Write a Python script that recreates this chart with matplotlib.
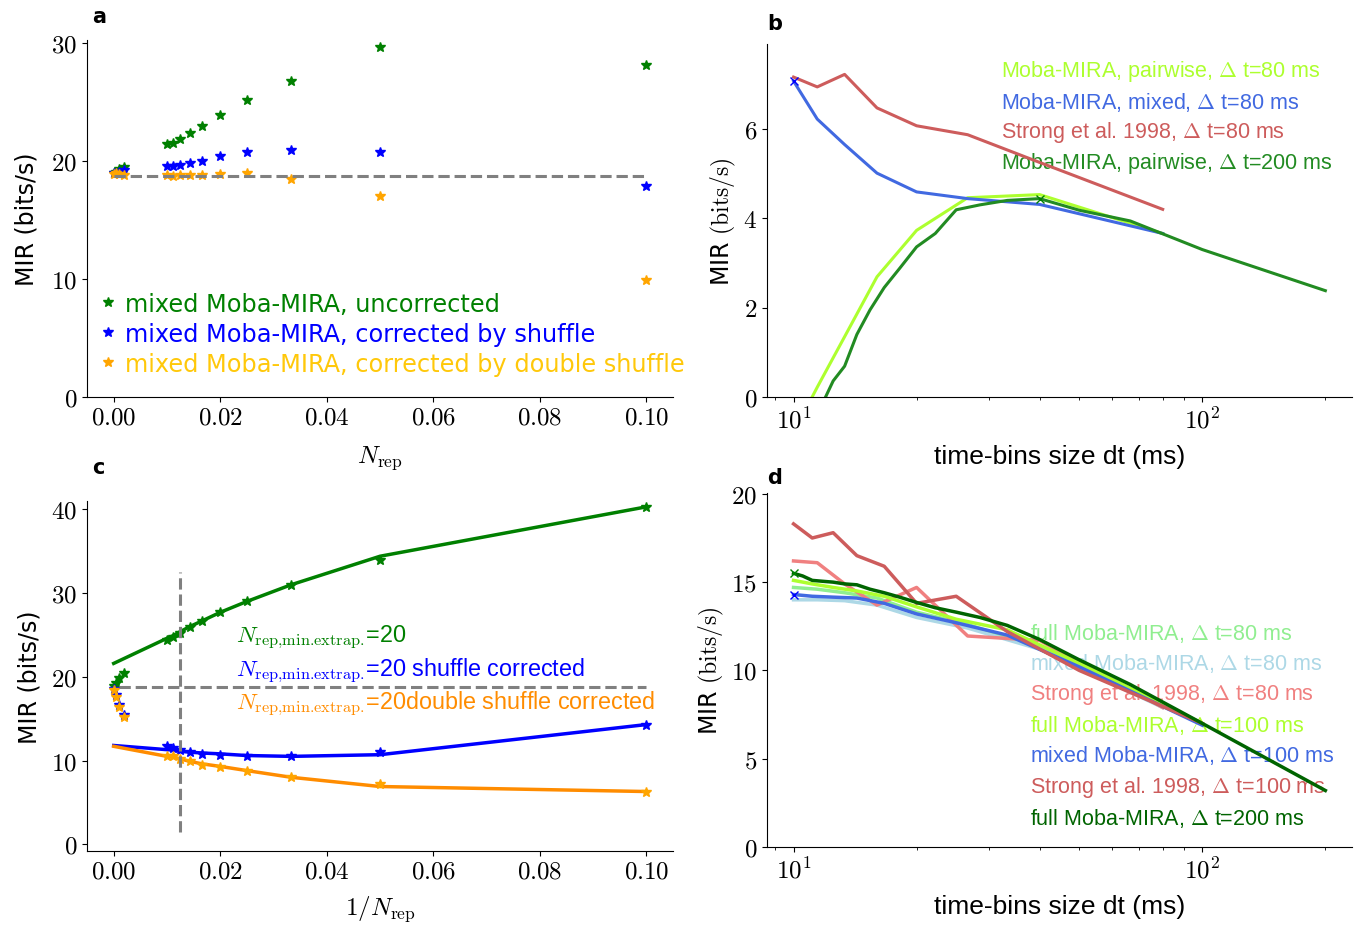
import numpy as np
import matplotlib
matplotlib.use('Agg')
import matplotlib.pyplot as plt
from matplotlib.ticker import NullFormatter, FuncFormatter

plt.rcParams['font.family'] = 'serif'
plt.rcParams['font.serif'] = ['cmr10']
plt.rcParams['mathtext.fontset'] = 'cm'
plt.rcParams['axes.formatter.use_mathtext'] = True
plt.rcParams['axes.unicode_minus'] = False

SANS = 'DejaVu Sans'
HELV = 'Liberation Sans'

# 1/N_rep for each number of repetitions
n_rep = np.array([10000, 2000, 1000, 500, 100, 90, 80, 70, 60, 50, 40, 30, 20, 10])
inv_nrep = 1.0 / n_rep

# panel a: mixed Moba-MIRA estimates
a_uncorr = [19.0, 19.1, 19.3, 19.5, 21.4, 21.5, 21.9, 22.4, 23.0, 23.9, 25.2, 26.8, 29.7, 28.1]
a_shuffle = [19.0, 19.0, 19.1, 19.2, 19.6, 19.6, 19.7, 19.8, 20.0, 20.4, 20.8, 20.9, 20.8, 17.9]
a_double = [18.9, 19.0, 18.9, 18.8, 18.8, 18.7, 18.8, 18.8, 18.8, 18.9, 19.0, 18.5, 17.0, 9.9]
mir_ref = 18.75

# panel c: full Moba-MIRA estimates and extrapolation fits
c_uncorr = [18.9, 19.3, 19.8, 20.5, 24.4, 24.7, 25.2, 25.9, 26.7, 27.7, 29.0, 31.0, 34.0, 40.3]
c_shuffle = [18.6, 17.8, 16.6, 15.4, 11.7, 11.5, 11.3, 11.0, 10.8, 10.7, 10.5, 10.5, 11.0, 14.2]
c_double = [18.4, 17.6, 16.4, 15.2, 10.6, 10.5, 10.2, 9.9, 9.5, 9.2, 8.7, 8.0, 7.2, 6.2]
fit_x = np.concatenate([[0.0], inv_nrep[4:]])
fit_uncorr = [21.6, 24.6, 24.9, 25.4, 26.0, 26.7, 27.7, 29.0, 31.0, 34.4, 40.3]
fit_shuffle = [11.8, 11.3, 11.25, 11.1, 11.0, 10.9, 10.8, 10.6, 10.5, 10.7, 14.3]
fit_double = [11.7, 10.5, 10.4, 10.2, 9.9, 9.6, 9.3, 8.8, 8.0, 6.9, 6.3]
n_min_extrap = 80

# time-bin sizes: word length divided into n bins
dt80 = 80.0 / np.arange(8, 0, -1)
dt100 = 100.0 / np.arange(10, 0, -1)
dt200 = 200.0 / np.arange(20, 0, -1)

# panel b
b_pair80 = [-0.8, 0.22, 1.35, 2.69, 3.73, 4.46, 4.53, 3.66]
b_mixed80 = [7.07, 6.22, 5.65, 5.01, 4.59, 4.44, 4.31, 3.66]
b_strong80 = [7.16, 6.94, 7.22, 6.47, 6.07, 5.87, 5.25, 4.20]
b_pair200 = [-2.0, -1.4, -0.8, -0.15, 0.36, 0.69, 1.40, 1.95, 2.45, 2.88,
             3.36, 3.66, 4.19, 4.30, 4.40, 4.44, 4.18, 3.94, 3.30, 2.38]

# panel d
d_full80 = [14.7, 14.6, 14.4, 14.1, 13.3, 12.6, 11.3, 8.0]
d_mixed80 = [14.0, 14.0, 13.95, 13.7, 13.0, 12.4, 11.2, 7.9]
d_strong80 = [16.2, 16.1, 14.9, 13.7, 14.7, 11.95, 11.7, 7.9]
d_full100 = [15.1, 14.9, 14.7, 14.5, 14.2, 13.6, 12.9, 12.3, 10.4, 7.0]
d_mixed100 = [14.3, 14.2, 14.15, 14.1, 13.8, 13.2, 12.7, 12.0, 10.2, 6.9]
d_strong100 = [18.3, 17.5, 17.8, 16.5, 15.9, 13.8, 14.2, 12.2, 10.0, 7.0]
d_full200 = [15.5, 15.35, 15.1, 15.05, 15.0, 14.9, 14.85, 14.6, 14.4, 14.15,
             13.85, 13.55, 13.3, 13.0, 12.55, 11.75, 10.6, 9.2, 7.0, 3.2]

fig = plt.figure(figsize=(13.56, 9.28), dpi=100)
ax_a = fig.add_axes([0.0642, 0.5711, 0.4322, 0.3847])
ax_b = fig.add_axes([0.5656, 0.5711, 0.4314, 0.3804])
ax_c = fig.add_axes([0.0642, 0.0819, 0.4322, 0.3772])
ax_d = fig.add_axes([0.5656, 0.0862, 0.4314, 0.3815])

for ax in (ax_a, ax_b, ax_c, ax_d):
    ax.spines['top'].set_visible(False)
    ax.spines['right'].set_visible(False)
    ax.tick_params(labelsize=18)

lin_fmt = FuncFormatter(lambda v, p: f'${v:.2f}$')
int_fmt = FuncFormatter(lambda v, p: f'${v:.0f}$')
log_fmt = FuncFormatter(lambda v, p: f'$10^{{{int(round(np.log10(v)))}}}$')

# ---- a ----
ax_a.plot(inv_nrep, a_uncorr, '*', color='green', ms=7, label='mixed Moba-MIRA, uncorrected')
ax_a.plot(inv_nrep, a_shuffle, '*', color='blue', ms=7, label='mixed Moba-MIRA, corrected by shuffle')
ax_a.plot(inv_nrep, a_double, '*', color='orange', ms=7, label='mixed Moba-MIRA, corrected by double shuffle')
ax_a.plot([0, 0.1], [mir_ref, mir_ref], '--', color='gray', lw=2.2)
ax_a.set_ylim(0, 30.25)
ax_a.set_yticks([0, 10, 20, 30])
ax_a.xaxis.set_major_formatter(lin_fmt)
ax_a.yaxis.set_major_formatter(int_fmt)
ax_a.set_xlabel(r'$N_{\mathrm{rep}}$', fontsize=18, labelpad=10)
ax_a.set_ylabel('MIR (bits/s)', fontsize=17, family=SANS, labelpad=9)
ax_a.legend(loc='lower left', bbox_to_anchor=(0.0, 0.019), frameon=False,
            prop={'family': SANS, 'size': 17.3}, handlelength=0.55,
            handletextpad=0.45, labelspacing=0.25, borderaxespad=0.2,
            labelcolor=['green', 'blue', '#ffc80a'])

# ---- b ----
ax_b.plot(dt80, b_pair80, color='greenyellow', lw=2.2, label=r'Moba-MIRA, pairwise, $\Delta$ t=80 ms')
ax_b.plot(dt80, b_mixed80, color='royalblue', lw=2.2, label=r'Moba-MIRA, mixed, $\Delta$ t=80 ms')
ax_b.plot(dt80, b_strong80, color='indianred', lw=2.2, label=r'Strong et al. 1998, $\Delta$ t=80 ms')
ax_b.plot(dt200, b_pair200, color='forestgreen', lw=2.2, label=r'Moba-MIRA, pairwise, $\Delta$ t=200 ms')
ax_b.plot(dt80[0], b_mixed80[0], 'x', color='blue', ms=6)
ax_b.plot(dt200[15], b_pair200[15], 'x', color='green', ms=6)
ax_b.set_xscale('log')
ax_b.set_ylim(0, 7.9)
ax_b.set_yticks([0, 2, 4, 6])
ax_b.yaxis.set_major_formatter(int_fmt)
ax_b.xaxis.set_major_formatter(log_fmt)
ax_b.xaxis.set_minor_formatter(NullFormatter())
ax_b.set_xlabel('time-bins size dt (ms)', fontsize=19, family=HELV, labelpad=8)
ax_b.set_ylabel(r'MIR $(\mathrm{bits/s})$', fontsize=17, family=SANS)
lb = ax_b.legend(loc='upper right', bbox_to_anchor=(1.0, 1.015), frameon=False,
                 prop={'family': HELV, 'size': 15.5}, handlelength=0, handletextpad=0,
                 labelspacing=0.3, labelcolor='linecolor')
for h in lb.legend_handles:
    h.set_visible(False)
lb.set_zorder(1)

# ---- c ----
ax_c.plot(fit_x, fit_uncorr, color='green', lw=2.5)
ax_c.plot(fit_x, fit_shuffle, color='blue', lw=2.5)
ax_c.plot(fit_x, fit_double, color='darkorange', lw=2.5)
ax_c.plot(inv_nrep, c_uncorr, '*', color='green', ms=7)
ax_c.plot(inv_nrep, c_shuffle, '*', color='blue', ms=7)
ax_c.plot(inv_nrep, c_double, '*', color='orange', ms=7)
ax_c.plot([inv_nrep[3] / 2, 0.1], [mir_ref, mir_ref], '--', color='gray', lw=2.2)
ax_c.plot([1 / n_min_extrap, 1 / n_min_extrap], [1.5, 32.5], '--', color='gray', lw=2.2)
ax_c.set_ylim(-0.8, 41)
ax_c.set_yticks([0, 10, 20, 30, 40])
ax_c.xaxis.set_major_formatter(lin_fmt)
ax_c.yaxis.set_major_formatter(int_fmt)
ax_c.set_xlabel(r'$1/N_{\mathrm{rep}}$', fontsize=18, labelpad=7.5)
ax_c.set_ylabel('MIR (bits/s)', fontsize=17, family=SANS, labelpad=7)
nlab = r'$N_{\text{rep,min.extrap.}}$'
ax_c.text(0.023, 24.8, nlab + '=20', color='green', fontsize=16.8, family=HELV, va='center')
ax_c.text(0.023, 20.85, nlab + '=20 shuffle corrected', color='blue', fontsize=16.8, family=HELV, va='center')
ax_c.text(0.023, 16.9, nlab + '=20double shuffle corrected', color='darkorange', fontsize=16.8, family=HELV, va='center')

# ---- d ----
ax_d.plot(dt80, d_full80, color='lightgreen', lw=2.5, label=r'full Moba-MIRA, $\Delta$ t=80 ms')
ax_d.plot(dt80, d_mixed80, color='lightblue', lw=2.5, label=r'mixed Moba-MIRA, $\Delta$ t=80 ms')
ax_d.plot(dt80, d_strong80, color='lightcoral', lw=2.5, label=r'Strong et al. 1998, $\Delta$ t=80 ms')
ax_d.plot(dt100, d_full100, color='greenyellow', lw=2.5, label=r'full Moba-MIRA, $\Delta$ t=100 ms')
ax_d.plot(dt100, d_mixed100, color='royalblue', lw=2.5, label=r'mixed Moba-MIRA, $\Delta$ t=100 ms')
ax_d.plot(dt100, d_strong100, color='indianred', lw=2.5, label=r'Strong et al. 1998, $\Delta$ t=100 ms')
ax_d.plot(dt200, d_full200, color='darkgreen', lw=2.5, label=r'full Moba-MIRA, $\Delta$ t=200 ms')
ax_d.plot(dt200[0], d_full200[0], 'x', color='green', ms=6)
ax_d.plot(dt100[0], d_mixed100[0], 'x', color='blue', ms=6)
ax_d.set_xscale('log')
ax_d.set_ylim(0, 20.05)
ax_d.set_yticks([0, 5, 10, 15, 20])
ax_d.yaxis.set_major_formatter(int_fmt)
ax_d.xaxis.set_major_formatter(log_fmt)
ax_d.xaxis.set_minor_formatter(NullFormatter())
ax_d.set_xlabel('time-bins size dt (ms)', fontsize=19, family=HELV, labelpad=8)
ax_d.set_ylabel(r'MIR $(\mathrm{bits/s})$', fontsize=17, family=SANS)
ld = ax_d.legend(loc='lower left', bbox_to_anchor=(0.417, -0.003), frameon=False,
                 prop={'family': HELV, 'size': 15.5}, handlelength=0, handletextpad=0,
                 labelspacing=0.33, labelcolor='linecolor')
for h in ld.legend_handles:
    h.set_visible(False)
ld.set_zorder(1)

# panel letters
for x, y, s in [(0.068, 0.992, 'a'), (0.566, 0.985, 'b'), (0.068, 0.507, 'c'), (0.566, 0.496, 'd')]:
    fig.text(x, y, s, fontsize=15, fontweight='bold', family=SANS, va='top')

fig.savefig('out.png', dpi=100)
